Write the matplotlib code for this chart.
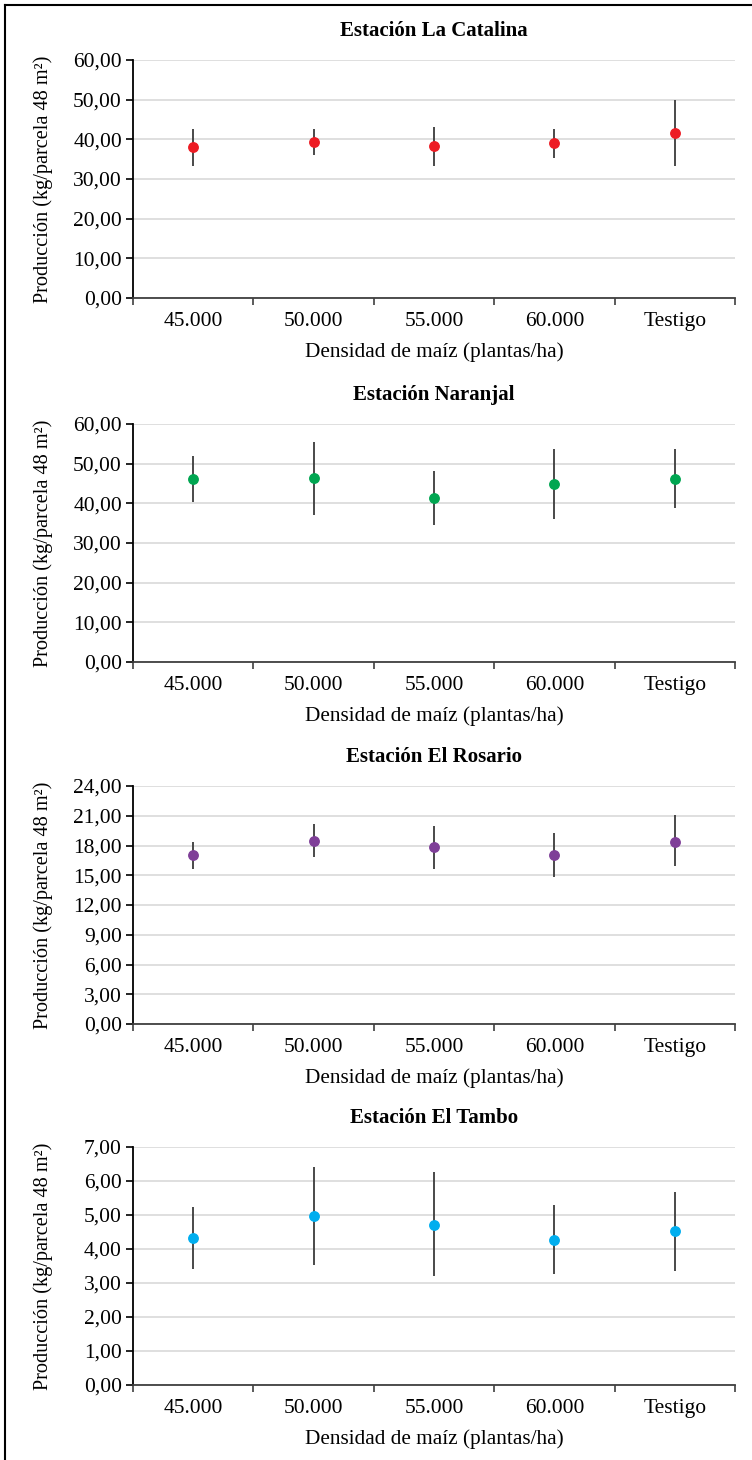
import numpy as np
import matplotlib
matplotlib.use('Agg')
import matplotlib.pyplot as plt
from matplotlib.ticker import FuncFormatter, FixedLocator
from matplotlib.lines import Line2D

plt.rcParams['font.family'] = ['Liberation Serif', 'DejaVu Serif']

categorias = ['45.000', '50.000', '55.000', '60.000', 'Testigo']
estaciones = ['Estación La Catalina', 'Estación Naranjal', 'Estación El Rosario', 'Estación El Tambo']
colores = ['#ED1C24', '#00A651', '#7F3F98', '#00AEEF']

# medias y extremos de las barras de error (kg/parcela 48 m2)
catalina = [38.1, 39.3, 38.2, 39.2, 41.6]
catalina_min = [33.2, 36.1, 33.4, 35.4, 33.4]
catalina_max = [42.7, 42.7, 43.0, 42.7, 50.0]

naranjal = [46.1, 46.3, 41.3, 45.0, 46.2]
naranjal_min = [40.3, 37.1, 34.5, 36.1, 38.7]
naranjal_max = [51.9, 55.4, 48.1, 53.6, 53.6]

rosario = [17.0, 18.5, 17.8, 17.0, 18.4]
rosario_min = [15.6, 16.8, 15.6, 14.8, 15.9]
rosario_max = [18.4, 20.2, 20.0, 19.3, 21.1]

tambo = [4.32, 4.98, 4.72, 4.27, 4.53]
tambo_min = [3.40, 3.54, 3.22, 3.26, 3.36]
tambo_max = [5.25, 6.41, 6.26, 5.28, 5.69]

medias = [catalina, naranjal, rosario, tambo]
minimos = [catalina_min, naranjal_min, rosario_min, tambo_min]
maximos = [catalina_max, naranjal_max, rosario_max, tambo_max]
y_max = [60, 60, 24, 7]
y_paso = [10, 10, 3, 1]

W, H = 752, 1460
fig = plt.figure(figsize=(W / 100, H / 100), dpi=100)

# borde del recuadro (izquierda y arriba)
fig.add_artist(Line2D([5 / W, 5 / W], [0, 1 - 5 / H], color='black', lw=1.5, transform=fig.transFigure))
fig.add_artist(Line2D([5 / W, 1], [1 - 5 / H, 1 - 5 / H], color='black', lw=1.5, transform=fig.transFigure))

tops = [60, 424, 786, 1147]
alto = 238
izq, ancho = 133, 602

fmt = FuncFormatter(lambda v, p: f'{v:.2f}'.replace('.', ','))

for i in range(4):
    ax = fig.add_axes([izq / W, 1 - (tops[i] + alto) / H, ancho / W, alto / H])
    x = np.arange(len(categorias))
    m = np.array(medias[i])
    err = [m - np.array(minimos[i]), np.array(maximos[i]) - m]
    ax.errorbar(x, m, yerr=err, fmt='o', color=colores[i], ecolor='#3a3a3a',
                elinewidth=1.3, capsize=0, markersize=6.8, zorder=3)

    ax.set_xlim(-0.5, len(categorias) - 0.5)
    ax.set_ylim(0, y_max[i])
    ax.set_yticks(np.arange(0, y_max[i] + 0.001, y_paso[i]))
    ax.yaxis.set_major_formatter(fmt)
    ax.grid(axis='y', color='#D9D9D9', lw=1.2, zorder=0)
    ax.set_axisbelow(True)

    ax.set_xticks(x)
    ax.set_xticklabels(categorias)
    ax.tick_params(axis='x', which='major', length=0, pad=10, labelsize=15.5)
    ax.xaxis.set_minor_locator(FixedLocator(np.arange(-0.5, len(categorias), 1.0)))
    ax.tick_params(axis='x', which='minor', length=5, width=1.2, color='#404040')
    ax.tick_params(axis='y', length=5, width=1.2, pad=3, labelsize=15.5)

    for s in ['top', 'right']:
        ax.spines[s].set_visible(False)
    ax.spines['left'].set_linewidth(1.3)
    ax.spines['bottom'].set_linewidth(1.3)
    ax.spines['bottom'].set_color('#404040')

    fig.text((izq + ancho / 2) / W, 1 - (tops[i] - 29) / H, estaciones[i],
             fontsize=15, fontweight='bold', ha='center', va='center')
    ax.set_xlabel('Densidad de maíz (plantas/ha)', fontsize=15.3)
    ax.xaxis.label.set_va('center')
    ax.xaxis.set_label_coords(0.5, -54 / alto)
    ax.set_ylabel('Producción (kg/parcela 48 m²)', fontsize=14.6)
    ax.yaxis.label.set_va('center')
    ax.yaxis.set_label_coords(-90 / ancho, 0.5)

fig.savefig('out.png', dpi=100)
